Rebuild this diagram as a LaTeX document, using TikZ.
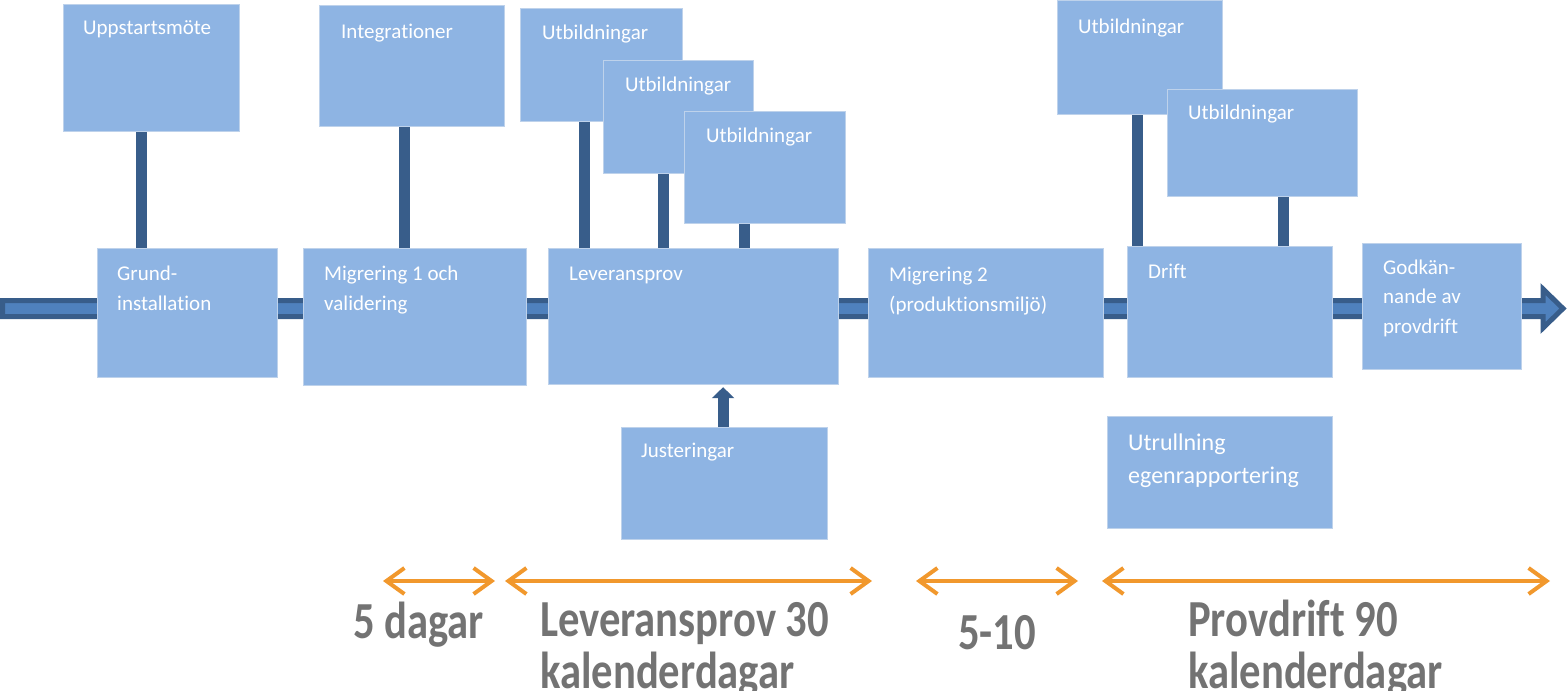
\documentclass[tikz,border=0pt]{standalone}
\usepackage{fontspec}
\setmainfont{Carlito}[Ligatures=NoCommon]
\newfontfamily\durfont{Carlito}[FakeStretch=0.82,Ligatures=NoCommon]
\usetikzlibrary{arrows.meta}
\definecolor{boxblue}{RGB}{142,180,227}
\definecolor{boxedge}{RGB}{190,210,235}
\definecolor{lineblue}{RGB}{79,129,189}
\definecolor{connblue}{RGB}{56,93,138}
\definecolor{spanorange}{RGB}{241,152,45}
\definecolor{durgray}{RGB}{115,115,115}
\tikzset{
  box/.style={fill=boxblue, draw=boxedge, line width=1.2pt, anchor=north west, inner sep=0pt},
  txt/.style={anchor=base west, inner sep=0pt, text=white, align=left, font=\fontsize{21}{30}\selectfont},
  conn/.style={draw=connblue, line width=11pt},
  span/.style={draw=spanorange, line width=4pt, line cap=round, line join=round,
    {Straight Barb[length=18pt,width=26pt]}-{Straight Barb[length=18pt,width=26pt]}},
  dur/.style={anchor=base west, inner sep=0pt, text=durgray, align=left,
    font=\durfont\bfseries\fontsize{52}{52}\selectfont}
}
\begin{document}
\begin{tikzpicture}[x=1pt, y=-1pt]
\useasboundingbox (0,0) rectangle (1567,691);
% tidslinje
\filldraw[fill=lineblue, draw=connblue, line width=5pt, line join=miter]
  (2.5,300.5) -- (1543,300.5) -- (1543,289) -- (1563,308.5) -- (1543,328) -- (1543,316.5) -- (2.5,316.5) -- cycle;

\node (upp)   at (63,4)    [box, minimum width=176, minimum height=127] {};
\node (integ) at (319,5)   [box, minimum width=185, minimum height=121] {};
\node (utb1)  at (520,8)   [box, minimum width=162, minimum height=113] {};
\node (utb2)  at (603,60)  [box, minimum width=150, minimum height=113] {};
\node (utb3)  at (684,111) [box, minimum width=161, minimum height=112] {};
\node (utb4)  at (1057,0)  [box, minimum width=165, minimum height=114] {};
\node (utb5)  at (1167,89) [box, minimum width=190, minimum height=107] {};

\node (grund) at (97,248)   [box, minimum width=180, minimum height=129] {};
\node (mig1)  at (303,248)  [box, minimum width=223, minimum height=137] {};
\node (lev)   at (548,248)  [box, minimum width=290, minimum height=136] {};
\node (mig2)  at (868,248)  [box, minimum width=235, minimum height=129] {};
\node (drift) at (1127,246) [box, minimum width=205, minimum height=131] {};
\node (godk)  at (1362,243) [box, minimum width=159, minimum height=126] {};
\node (just)  at (621,427)  [box, minimum width=206, minimum height=112] {};
\node (utr)   at (1107,416) [box, minimum width=225, minimum height=112] {};

% base = sista raden
\node (tupp)   at (83,34)    [txt] {Uppstartsmöte};
\node (tinteg) at (341,38)   [txt] {Integrationer};
\node (tutb1)  at (542,39)   [txt] {Utbildningar};
\node (tutb2)  at (625,91)   [txt] {Utbildningar};
\node (tutb3)  at (706,142)  [txt] {Utbildningar};
\node (tutb4)  at (1078,33)  [txt] {Utbildningar};
\node (tutb5)  at (1188,119) [txt] {Utbildningar};
\node (tgrund) at (117,310)  [txt] {Grund-\\installation};
\node (tmig1)  at (324,310)  [txt] {Migrering 1 och\\validering};
\node (tlev)   at (569,280)  [txt] {Leveransprov};
\node (tmig2)  at (889,311)  [txt] {Migrering 2\\(produktionsmiljö)};
\node (tdrift) at (1148,278) [txt] {Drift};
\node (tgodk)  at (1383,333) [txt, font=\fontsize{21}{29.5}\selectfont] {Godkän-\\nande av\\provdrift};
\node (tjust)  at (641,457)  [txt] {Justeringar};
\node (tutr)   at (1128,483) [txt, font=\fontsize{24}{33}\selectfont] {Utrullning\\egenrapportering};

\draw[conn] ([xshift=-10.5]upp.south) -- ([xshift=-10.5]upp.south |- grund.north);
\draw[conn] ([xshift=-8]integ.south) -- ([xshift=-8]integ.south |- mig1.north);
\draw[conn] ([xshift=-17.5]utb1.south) -- ([xshift=-17.5]utb1.south |- lev.north);
\draw[conn] ([xshift=-15]utb2.south) -- ([xshift=-15]utb2.south |- lev.north);
\draw[conn] ([xshift=-21]utb3.south) -- ([xshift=-21]utb3.south |- lev.north);
\draw[conn] ([xshift=-2.5]utb4.south) -- ([xshift=-2.5]utb4.south |- drift.north);
\draw[conn] ([xshift=20.5]utb5.south) -- ([xshift=20.5]utb5.south |- drift.north);
\draw[conn, -{Triangle[width=22pt,length=11pt]}] ([xshift=-1.5]just.north) -- ([xshift=-1.5,yshift=-2]just.north |- lev.south);

\coordinate (s1a) at (383,581);  \coordinate (s1b) at (495,581);
\coordinate (s2a) at (505,581);  \coordinate (s2b) at (872,581);
\coordinate (s3a) at (916,581);  \coordinate (s3b) at (1078,581);
\coordinate (s4a) at (1102,581); \coordinate (s4b) at (1550,581);
\draw[span] (s1a) -- (s1b);
\draw[span] (s2a) -- (s2b);
\draw[span] (s3a) -- (s3b);
\draw[span] (s4a) -- (s4b);

\node (d1) at (353,638)  [dur] {5 dagar};
\node (d2) at (540,688)  [dur] {Leveransprov 30\\kalenderdagar};
\node (d3) at (958,649)  [dur] {5-10};
\node (d4) at (1188,688) [dur] {Provdrift 90\\kalenderdagar};
\end{tikzpicture}
\end{document}
